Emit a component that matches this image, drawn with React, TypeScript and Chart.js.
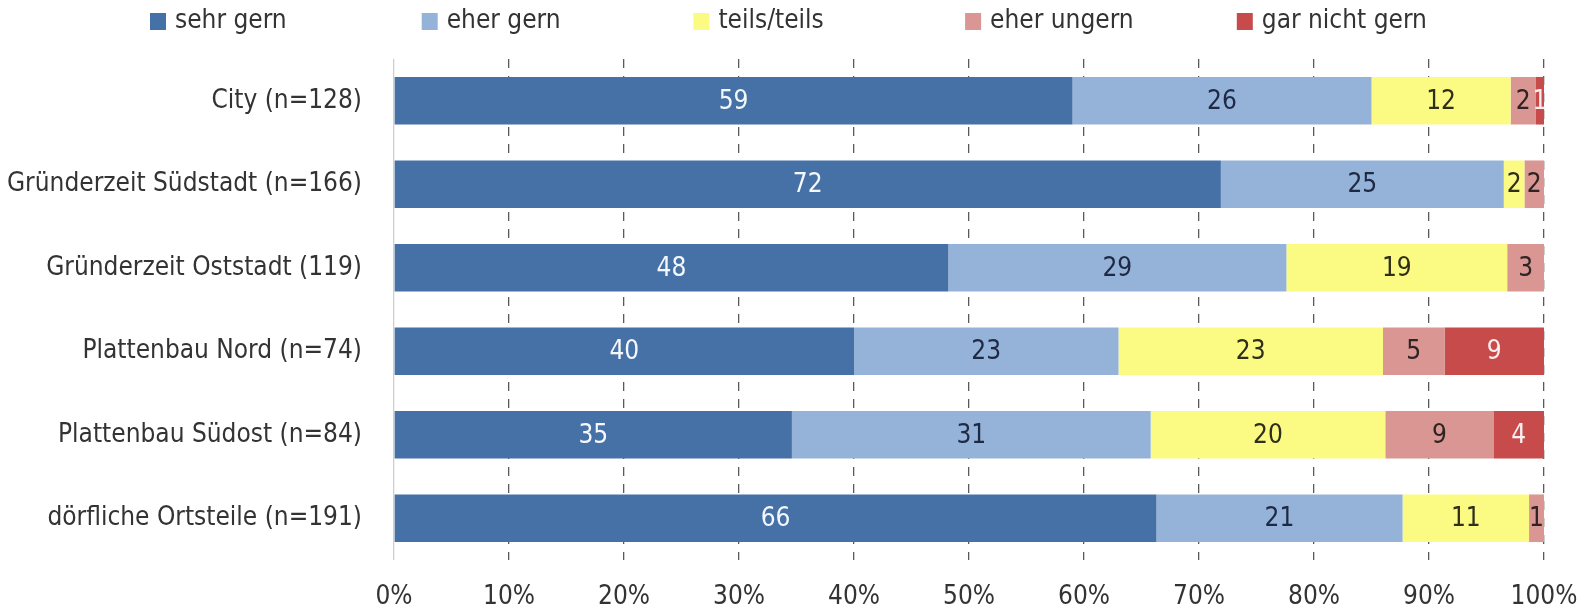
import React, { useEffect, useRef } from "react";
import { Chart, registerables } from "chart.js";

Chart.register(...registerables);

const categories = [
  "City (n=128)",
  "Gründerzeit Südstadt (n=166)",
  "Gründerzeit Oststadt (119)",
  "Plattenbau Nord (n=74)",
  "Plattenbau Südost (n=84)",
  "dörfliche Ortsteile (n=191)",
];
const seriesNames = ["sehr gern", "eher gern", "teils/teils", "eher ungern", "gar nicht gern"];
const sehrGern = [59.0, 71.9, 48.2, 40.0, 34.6, 66.3];
const eherGern = [26.0, 24.6, 29.4, 23.0, 31.2, 21.4];
const teilsTeils = [12.1, 1.8, 19.2, 23.0, 20.4, 11.0];
const eherUngern = [2.2, 1.7, 3.2, 5.35, 9.4, 1.3];
const garNichtGern = [0.7, 0, 0, 8.65, 4.4, 0];
const xTickValues = [0, 10, 20, 30, 40, 50, 60, 70, 80, 90, 100];

const FONT = "'Liberation Sans Narrow', 'DejaVu Sans Condensed', 'Roboto Condensed', sans-serif";
const COLORS = ["#4571a7", "#95b3d8", "#fbfb84", "#d99693", "#c84b4c"];
const LABEL_COLORS = ["#f4f7fc", "#1e2a45", "#2f2f1a", "#2e2424", "#fbeeee"];
const TEXT = "#333333";

const barLabelPlugin = {
  id: "barLabels",
  afterDatasetsDraw(chart: any) {
    const ctx = chart.ctx;
    ctx.save();
    ctx.font = `26px ${FONT}`;
    ctx.textAlign = "center";
    ctx.textBaseline = "middle";
    chart.data.datasets.forEach((ds: any, di: number) => {
      const meta = chart.getDatasetMeta(di);
      meta.data.forEach((bar: any, i: number) => {
        const v = ds.data[i];
        if (!v) return;
        const p = bar.getProps(["x", "y", "base"], true);
        ctx.fillStyle = LABEL_COLORS[di];
        ctx.fillText(String(Math.round(v)), (p.x + p.base) / 2, p.y + 1);
      });
    });
    ctx.restore();
  },
};

const legendPlugin = {
  id: "customLegend",
  afterDraw(chart: any) {
    const ctx = chart.ctx;
    ctx.save();
    ctx.font = `26px ${FONT}`;
    ctx.textAlign = "left";
    ctx.textBaseline = "middle";
    seriesNames.forEach((name, i) => {
      const left = 150 + i * 271.7;
      ctx.fillStyle = COLORS[i];
      ctx.fillRect(left, 13, 16, 17);
      ctx.fillStyle = TEXT;
      ctx.fillText(name, left + 25, 21);
    });
    ctx.restore();
  },
};

export default function App() {
  const ref = useRef<HTMLCanvasElement | null>(null);

  useEffect(() => {
    document.body.style.margin = "0";
    const canvas = ref.current;
    if (!canvas) return;
    const series = [sehrGern, eherGern, teilsTeils, eherUngern, garNichtGern];
    const chart = new Chart(canvas, {
      type: "bar",
      data: {
        labels: categories,
        datasets: series.map((d, i) => ({
          label: seriesNames[i],
          data: d,
          backgroundColor: COLORS[i],
          borderWidth: 0,
          barPercentage: 0.57,
          categoryPercentage: 1,
        })),
      },
      options: {
        indexAxis: "y",
        responsive: false,
        animation: false,
        devicePixelRatio: 1,
        layout: { padding: { top: 59, right: 50, bottom: 0, left: 0 } },
        plugins: {
          legend: { display: false },
          tooltip: { enabled: false },
          title: { display: false },
        },
        scales: {
          x: {
            stacked: true,
            min: 0,
            max: 100,
            afterBuildTicks: (s: any) => {
              s.ticks = xTickValues.map((v) => ({ value: v }));
            },
            afterFit: (s: any) => {
              s.height = 53;
              s.paddingRight = 0;
              s.paddingLeft = 0;
            },
            ticks: {
              callback: (v: any) => `${v}%`,
              color: TEXT,
              font: { family: FONT, size: 26 },
              padding: 22,
              maxRotation: 0,
            },
            grid: {
              drawTicks: false,
              color: (c: any) => (c.tick && c.tick.value === 0 ? "#cfcfcf" : "#5a5a5a"),
              lineWidth: 1.3,
            },
            border: {
              display: false,
              dash: (c: any) => (c.tick && c.tick.value === 0 ? [] : [9, 8]),
            },
          },
          y: {
            stacked: true,
            afterFit: (s: any) => {
              s.width = 394;
              s.paddingTop = 0;
              s.paddingBottom = 0;
            },
            ticks: {
              color: TEXT,
              font: { family: FONT, size: 26 },
              padding: 32,
            },
            grid: { display: false, drawTicks: false },
            border: { display: false },
          },
        },
      },
      plugins: [barLabelPlugin, legendPlugin],
    } as any);
    return () => chart.destroy();
  }, []);

  return (
    <div style={{ width: 1594, height: 613, background: "#fff" }}>
      <canvas ref={ref} width={1594} height={613} style={{ display: "block" }} />
    </div>
  );
}
